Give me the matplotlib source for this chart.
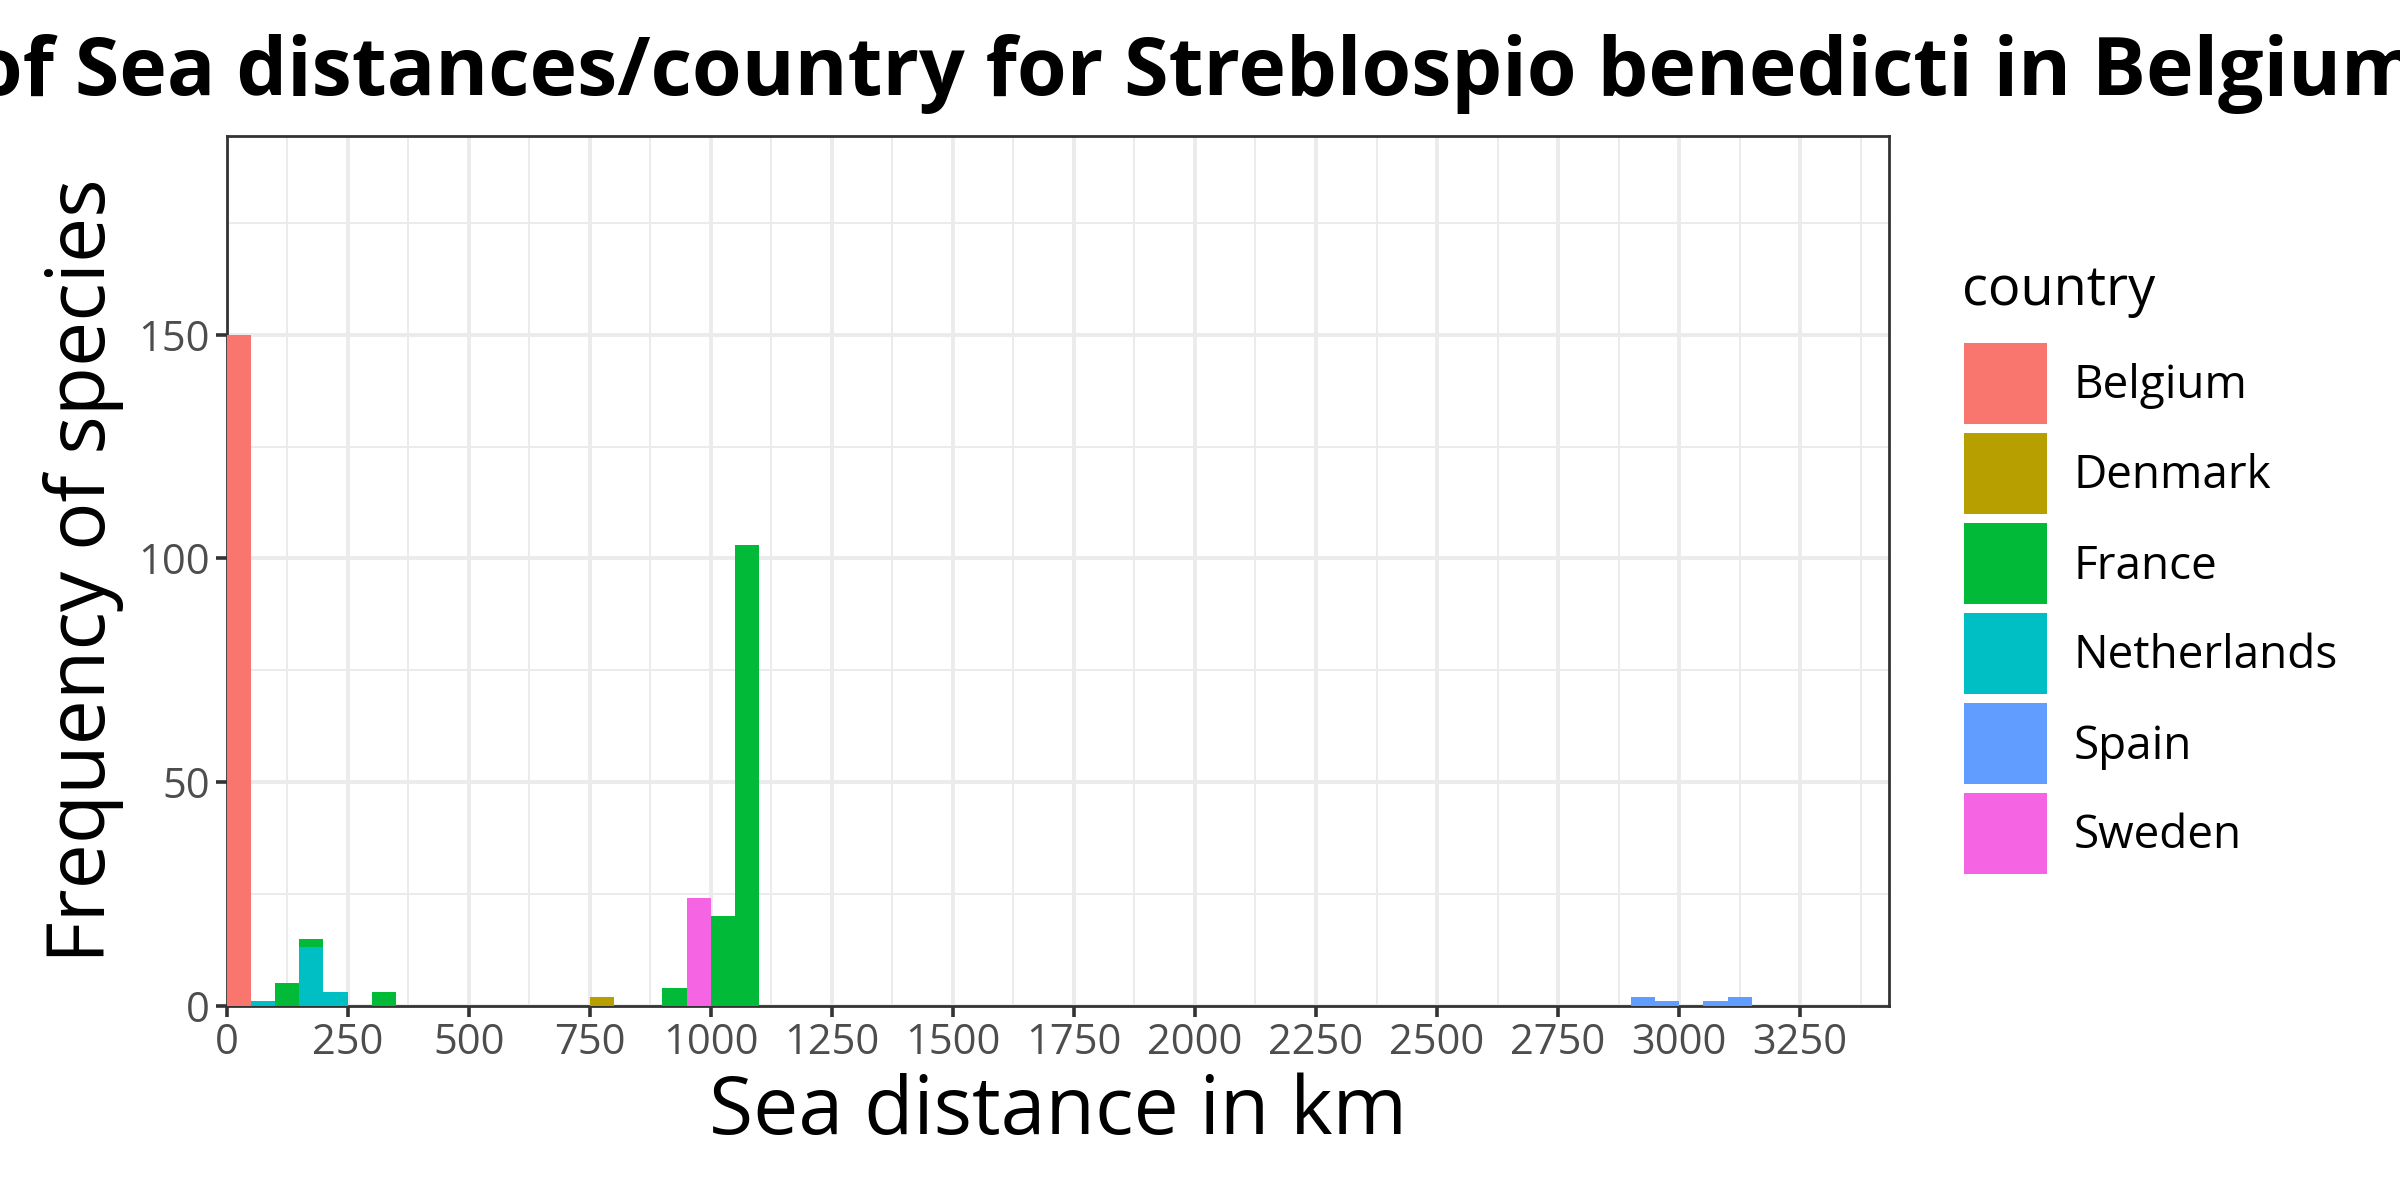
import numpy as np
import matplotlib
matplotlib.use("Agg")
import matplotlib.pyplot as plt
from matplotlib.patches import Rectangle

plt.rcParams['font.family'] = ['Open Sans', 'DejaVu Sans']

# histogram counts, binwidth 50 km (bin start -> count)
countries = ["Belgium", "Denmark", "France", "Netherlands", "Spain", "Sweden"]
colors = ["#F8766D", "#B79F00", "#00BA38", "#00BFC4", "#619CFF", "#F564E3"]

belgium_bins = [0]
belgium_counts = [150]
denmark_bins = [750]
denmark_counts = [2]
france_bins = [100, 150, 300, 900, 1000, 1050]
france_counts = [5, 2, 3, 4, 20, 103]
netherlands_bins = [50, 150, 200]
netherlands_counts = [1, 13, 3]
spain_bins = [2900, 2950, 3050, 3100]
spain_counts = [2, 1, 1, 2]
sweden_bins = [950]
sweden_counts = [24]

binwidth = 50
x_ticks = [0, 250, 500, 750, 1000, 1250, 1500, 1750, 2000, 2250, 2500, 2750, 3000, 3250]
y_ticks = [0, 50, 100, 150]

series = {
    "Belgium": (belgium_bins, belgium_counts),
    "Denmark": (denmark_bins, denmark_counts),
    "France": (france_bins, france_counts),
    "Netherlands": (netherlands_bins, netherlands_counts),
    "Spain": (spain_bins, spain_counts),
    "Sweden": (sweden_bins, sweden_counts),
}

fig = plt.figure(figsize=(12, 6), dpi=200)
ax = fig.add_axes([0.0944, 0.162, 0.787 - 0.0944, 0.8867 - 0.162])

# ggplot stacks first level on top -> draw from last level upward
base = {}
for name, col in zip(reversed(countries), reversed(colors)):
    bins, counts = series[name]
    bottoms = [base.get(b, 0) for b in bins]
    ax.bar(bins, counts, width=binwidth, bottom=bottoms, align="edge",
           color=col, linewidth=0, zorder=3)
    for b, c in zip(bins, counts):
        base[b] = base.get(b, 0) + c

ax.set_xlim(0, 3433)
ax.set_ylim(0, 194.5)
ax.set_xticks(x_ticks)
ax.set_yticks(y_ticks)
ax.set_xticks(np.array(x_ticks) + 125, minor=True)
ax.set_yticks(np.array(y_ticks) + 25, minor=True)
ax.grid(which="major", color="#EBEBEB", linewidth=1.4, zorder=0)
ax.grid(which="minor", color="#EBEBEB", linewidth=0.7, zorder=0)
ax.set_axisbelow(True)
ax.tick_params(which="major", length=4, width=1.3, color="#333333",
               labelsize=15, labelcolor="#4D4D4D", pad=2)
ax.tick_params(which="minor", length=0)
for s in ax.spines.values():
    s.set_color("#333333")
    s.set_linewidth(1.0)

ax.set_xlabel("Sea distance in km", fontsize=29, labelpad=3)
ax.set_ylabel("Frequency of species", fontsize=29, labelpad=5)

fig.text(2420 / 2400, 1 - 95 / 1200,
         "Histogram of Sea distances/country for Streblospio benedicti in Belgium",
         ha="right", va="baseline", fontsize=29, fontweight="bold")

# legend
fig.text(1962 / 2400, 1 - 291 / 1200, "country", fontsize=19.5, ha="left", va="center")
key_w, key_h, step = 83, 81, 90
for i, (name, col) in enumerate(zip(countries, colors)):
    top = 343 + i * step
    fig.add_artist(Rectangle((1964 / 2400, 1 - (top + key_h) / 1200),
                             key_w / 2400, key_h / 1200,
                             transform=fig.transFigure, color=col, linewidth=0))
    fig.text(2074 / 2400, 1 - (top + key_h / 2 + 3) / 1200, name,
             fontsize=16.5, ha="left", va="center")

fig.savefig("out.png", dpi=200)
